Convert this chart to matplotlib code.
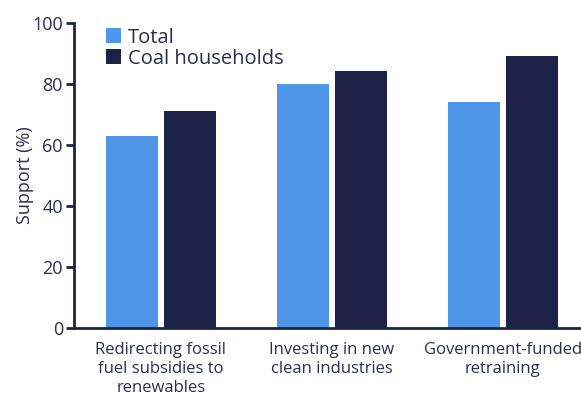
import matplotlib
matplotlib.use("Agg")
import matplotlib.pyplot as plt
import numpy as np

categories = ["Redirecting fossil\nfuel subsidies to\nrenewables",
              "Investing in new\nclean industries",
              "Government-funded\nretraining"]
total = [63, 80, 74]
coal = [71, 84, 89]

navy = "#1e2248"
blue = "#4f96e8"
text_col = "#2a2e50"

plt.rcParams['font.family'] = ['Open Sans', 'DejaVu Sans']

fig = plt.figure(figsize=(5.81, 3.94), dpi=100)
ax = fig.add_axes([0.1274, 0.1675, 0.8726, 0.7751])

x = np.arange(len(categories))
w = 0.304
ax.bar(x - 0.17, total, w, color=blue, label="Total")
ax.bar(x + 0.17, coal, w, color=navy, label="Coal households")

ax.set_xlim(-0.509, 2.459)
ax.set_ylim(0, 100)
ax.set_yticks([0, 20, 40, 60, 80, 100])
ax.set_xticks(x)
ax.set_xticklabels(categories, fontsize=12, color=text_col, linespacing=1.25)
ax.tick_params(axis='x', length=0, pad=10)
ax.tick_params(axis='y', length=6, width=2, color=navy, labelsize=13,
               labelcolor=text_col, pad=2)
ax.set_ylabel("Support (%)", fontsize=13, color=text_col)
ax.yaxis.set_label_coords(-0.078, 0.5)

for s in ['top', 'right']:
    ax.spines[s].set_visible(False)
for s in ['left', 'bottom']:
    ax.spines[s].set_color(navy)
    ax.spines[s].set_linewidth(2)

ax.legend(loc='upper left', bbox_to_anchor=(0.047, 1.01), frameon=False,
          fontsize=14.5, handlelength=0.75, handleheight=0.75, handletextpad=0.35,
          labelspacing=0.05, labelcolor=text_col, borderaxespad=0)

fig.savefig("out.png", dpi=100)
